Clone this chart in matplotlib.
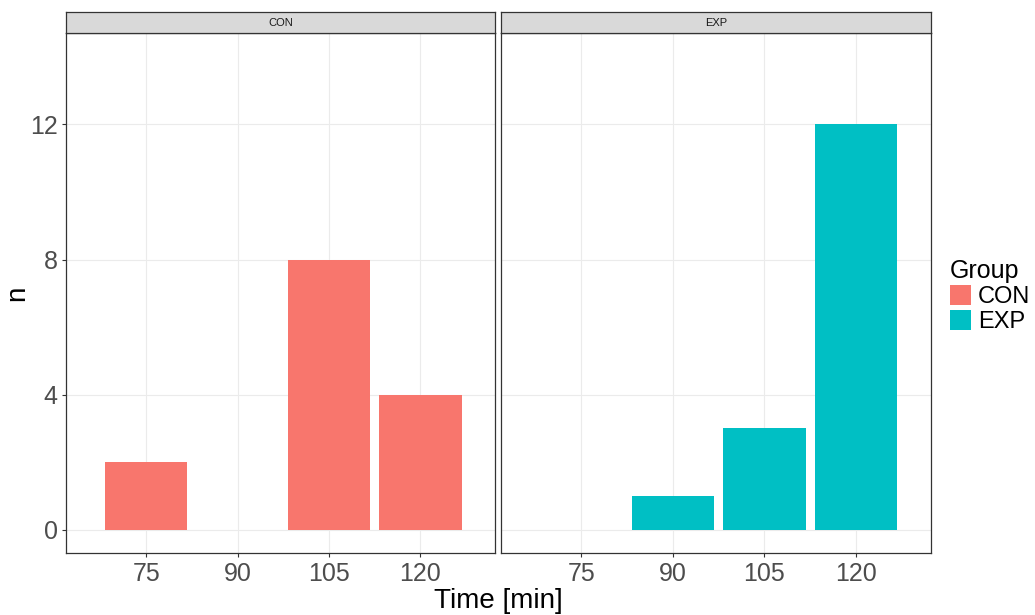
import matplotlib
matplotlib.use("Agg")
import matplotlib.pyplot as plt
from matplotlib.patches import Patch

plt.rcParams["font.family"] = ["Liberation Sans", "DejaVu Sans"]

# --- DATA ---
times = [75, 90, 105, 120]
groups = ["CON", "EXP"]
con_n = [2, 0, 8, 4]
exp_n = [0, 1, 3, 12]
counts = {"CON": con_n, "EXP": exp_n}
colors = {"CON": "#F8766D", "EXP": "#00BFC4"}
y_ticks = [0, 4, 8, 12]

W, H = 1035, 615
fig = plt.figure(figsize=(W / 100, H / 100), dpi=100)

def fx(px):
    return px / W

def fy(py):
    return 1 - py / H

panel_top, panel_bot = 33.3, 553.3
panels = [(66, 495), (501, 930.5)]
strip_top = 11.7

for i, (g, (x0, x1)) in enumerate(zip(groups, panels)):
    ax = fig.add_axes([fx(x0), fy(panel_bot), fx(x1 - x0), (panel_bot - panel_top) / H])
    ax.bar(times, counts[g], width=13.5, color=colors[g], edgecolor="none", zorder=2)
    ax.set_xlim(61.8, 132.25)
    ax.set_ylim(-0.7, 14.7)
    ax.set_xticks(times)
    ax.set_yticks(y_ticks)
    ax.grid(True, color="#EBEBEB", linewidth=0.8, zorder=0)
    ax.set_axisbelow(True)
    for s in ax.spines.values():
        s.set_color("#333333")
        s.set_linewidth(0.9)
    ax.tick_params(axis="both", length=3, width=0.8, color="#333333",
                   labelcolor="#4D4D4D", labelsize=18, pad=3)
    if i > 0:
        ax.tick_params(axis="y", left=False, labelleft=False)

    # facet strip
    sax = fig.add_axes([fx(x0), fy(panel_top), fx(x1 - x0), (panel_top - strip_top) / H])
    sax.set_facecolor("#D9D9D9")
    sax.set_xticks([])
    sax.set_yticks([])
    for s in sax.spines.values():
        s.set_color("#333333")
        s.set_linewidth(0.9)
    sax.text(0.5, 0.5, g, ha="center", va="center", fontsize=8, color="#1A1A1A",
             transform=sax.transAxes)

# axis titles
fig.text(fx(498), fy(608.3), "Time [min]", ha="center", va="baseline", fontsize=20)
fig.text(fx(17), fy(293.3), "n", ha="center", va="center", rotation=90, fontsize=20)

# legend
handles = [Patch(facecolor=colors[g], edgecolor="none") for g in groups]
fig.legend(handles, groups, title="Group", loc="upper left",
           bbox_to_anchor=(fx(950), fy(259)), frameon=False, borderpad=0,
           borderaxespad=0, fontsize=17, title_fontsize=18, handlelength=0.89,
           handleheight=0.95, labelspacing=0.08, handletextpad=0.3,
           alignment="left")

fig.savefig("out.png", dpi=100)
